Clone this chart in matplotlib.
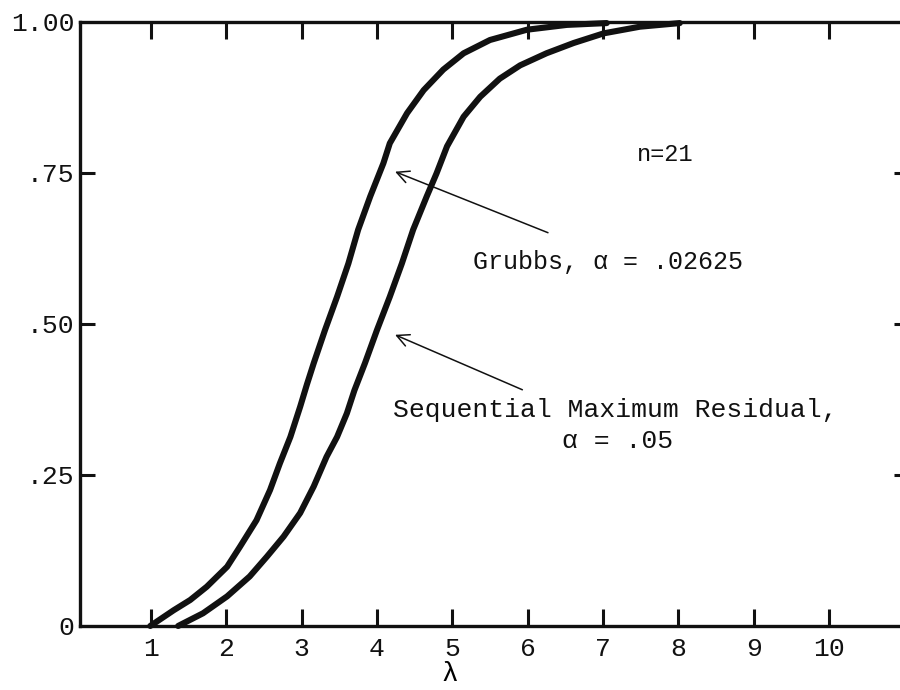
import matplotlib
matplotlib.use("Agg")
import matplotlib.pyplot as plt

# Power curves, n = 21
grubbs_lam = [0.99, 1.30, 1.52, 1.74, 2.01, 2.18, 2.40, 2.58, 2.71, 2.85, 2.98, 3.07,
              3.16, 3.31, 3.47, 3.62, 3.75, 3.91, 4.085, 4.17, 4.40, 4.62, 4.88,
              5.15, 5.50, 5.99, 6.52, 7.05]
grubbs_pow = [0.0, 0.026, 0.043, 0.065, 0.098, 0.131, 0.175, 0.225, 0.269, 0.313, 0.363, 0.400,
              0.435, 0.490, 0.545, 0.600, 0.656, 0.711, 0.766, 0.799, 0.849, 0.887, 0.921,
              0.948, 0.970, 0.987, 0.995, 0.998]

smr_lam = [1.36, 1.69, 2.01, 2.31, 2.54, 2.76, 2.98, 3.16, 3.33, 3.47, 3.60, 3.70,
           3.84, 4.00, 4.17, 4.33, 4.48, 4.66, 4.79, 4.93, 5.15, 5.37, 5.63, 5.90,
           6.25, 6.61, 7.01, 7.49, 8.02]
smr_pow = [0.0, 0.021, 0.049, 0.082, 0.115, 0.148, 0.187, 0.231, 0.280, 0.313, 0.352, 0.390,
           0.435, 0.490, 0.545, 0.600, 0.656, 0.711, 0.749, 0.794, 0.843, 0.876, 0.906, 0.928,
           0.948, 0.965, 0.981, 0.992, 0.998]

x_ticks = [1, 2, 3, 4, 5, 6, 7, 8, 9, 10]
x_ticklabels = ["1", "2", "3", "4", "5", "6", "7", "8", "9", "10"]
y_ticks = [0, 0.25, 0.50, 0.75, 1.00]
y_ticklabels = ["0", ".25", ".50", ".75", "1.00"]

mono = "Liberation Mono"
ink = "#111111"

fig = plt.figure(figsize=(9, 6.9), dpi=100)
ax = fig.add_axes([0.0889, 0.0928, 0.9133, 0.8755])
ax.set_xlim(0.057, 10.97)
ax.set_ylim(0, 1.0)

ax.plot(grubbs_lam, grubbs_pow, color=ink, lw=4.4, solid_capstyle="round",
        solid_joinstyle="round", clip_on=False)
ax.plot(smr_lam, smr_pow, color=ink, lw=4.4, solid_capstyle="round",
        solid_joinstyle="round", clip_on=False)

for side in ("left", "bottom", "top", "right"):
    ax.spines[side].set_linewidth(2.4)
    ax.spines[side].set_color(ink)

ax.set_xticks(x_ticks)
ax.set_xticklabels(x_ticklabels, fontfamily=mono, fontsize=19)
ax.set_yticks(y_ticks)
ax.set_yticklabels(y_ticklabels, fontfamily=mono, fontsize=19)
ax.tick_params(axis="x", which="both", direction="in", length=12, width=2.2,
               top=True, pad=8, colors=ink)
ax.tick_params(axis="y", which="both", direction="in", length=11, width=2.2,
               right=True, pad=4, colors=ink)
# the corner values carry no tick marks
for t in (ax.yaxis.get_major_ticks()[0], ax.yaxis.get_major_ticks()[-1]):
    t.tick1line.set_visible(False)
    t.tick2line.set_visible(False)
for t in ax.yaxis.get_major_ticks()[1:-1]:
    t.tick2line.set_markersize(6)

ax.set_xlabel("λ", fontfamily=mono, fontsize=20, x=0.45, labelpad=0)

ax.text(7.83, 0.78, "n=21", fontfamily=mono, fontsize=17, ha="center", va="center", color=ink)
ax.text(5.28, 0.603, "Grubbs, α = .02625", fontfamily=mono, fontsize=18,
        ha="left", va="center", color=ink)
ax.text(4.21, 0.358, "Sequential Maximum Residual,", fontfamily=mono, fontsize=19,
        ha="left", va="center", color=ink)
ax.text(7.19, 0.306, "α = .05", fontfamily=mono, fontsize=19,
        ha="center", va="center", color=ink)

arrow = dict(arrowstyle="->", color=ink, lw=1.1, mutation_scale=22,
             shrinkA=0, shrinkB=0)
ax.annotate("", xy=(4.24, 0.752), xytext=(6.27, 0.651), arrowprops=arrow)
ax.annotate("", xy=(4.24, 0.482), xytext=(5.93, 0.391), arrowprops=arrow)

fig.savefig("out.png", dpi=100)
